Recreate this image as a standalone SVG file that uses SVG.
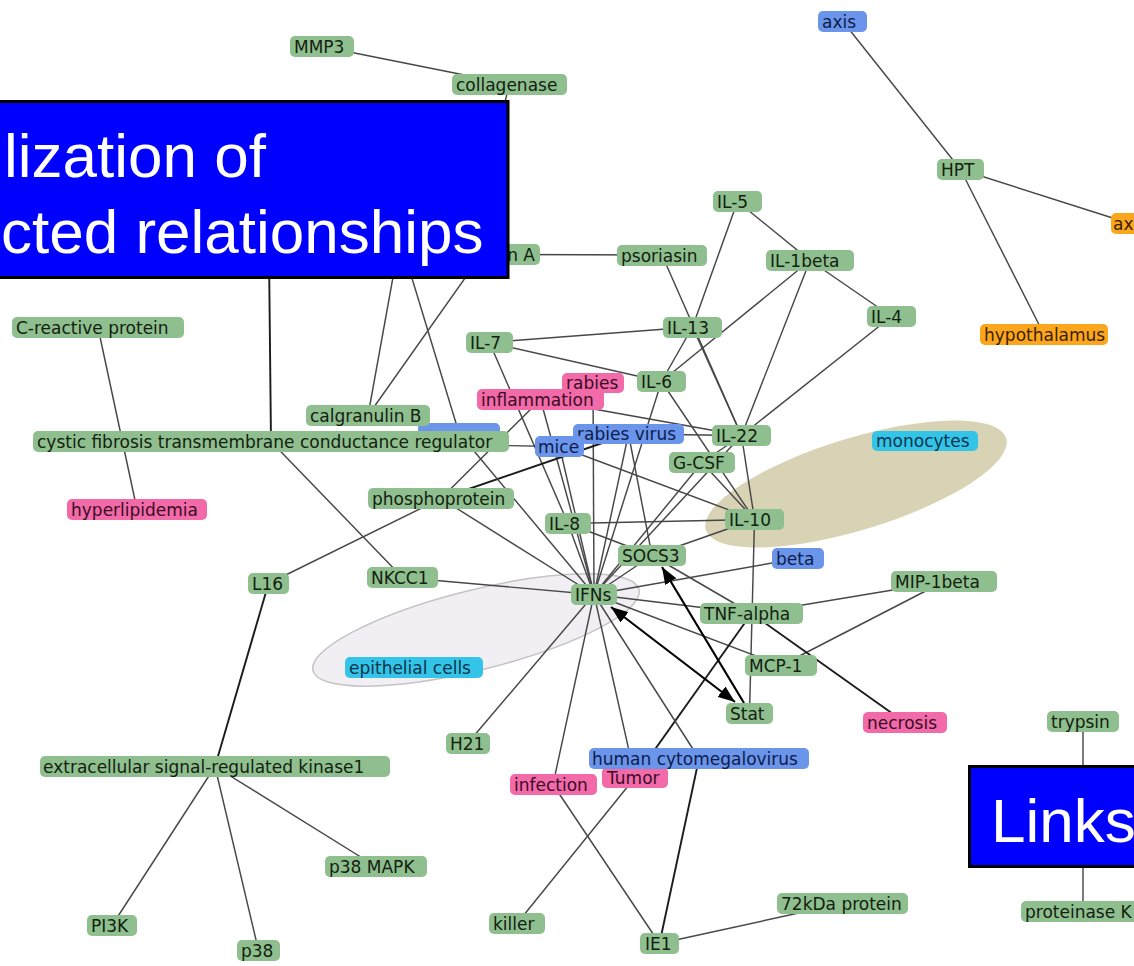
<svg xmlns="http://www.w3.org/2000/svg" width="1134" height="966" viewBox="0 0 1134 966">
<style>
  .e { stroke: #474747; stroke-width: 1.45; fill: none; }
  .dk { stroke: #1c1c1c; stroke-width: 1.9; fill: none; }
  .ar { stroke: #000; stroke-width: 2.2; fill: none; }
  .g { fill: #8fbf8f; }
  .p { fill: #f26aa8; }
  .b { fill: #6b95ea; }
  .c { fill: #33c4e8; }
  .o { fill: #fba61c; }
  rect.g, rect.p, rect.b, rect.c, rect.o { rx: 5px; ry: 5px; }
  .t { font-family: "DejaVu Sans", "Liberation Sans", sans-serif; font-size: 17px; fill: #13210f; }
  .tb { fill: #0d1c4c; }
  .tp { fill: #3a0c26; }
  .tc { fill: #08344e; }
  .to { fill: #3a2200; }
  .banner { fill: #0000ff; stroke: #000; stroke-width: 3; }
  .bt { font-family: "Liberation Sans", Arial, sans-serif; font-size: 62px; fill: #fff; }
</style>
<defs>
  <marker id="tip" viewBox="0 0 17 13" refX="17" refY="6.5" markerWidth="17" markerHeight="13" markerUnits="userSpaceOnUse" orient="auto-start-reverse">
    <path d="M0,0 L17,6.5 L0,13 z" fill="#000"/>
  </marker>
</defs>
<rect width="1134" height="966" fill="#fff"/>

<!-- cell-type regions -->
<g id="regions">
  <ellipse cx="856" cy="484" rx="157" ry="46" transform="rotate(-17 856 484)" fill="#d7d3b4"/>
  <ellipse cx="476" cy="630" rx="168" ry="40" transform="rotate(-14 476 630)" fill="#f1eff4" stroke="#c6c2c8" stroke-width="1.5"/>
</g>

<!-- connectors -->
<g id="connectors">
  <line class="e" x1="322" y1="46.5" x2="509.5" y2="84"/>
  <line class="e" x1="509.5" y1="84" x2="480" y2="200"/>
  <line class="dk" x1="268" y1="160" x2="271" y2="441.5"/>
  <line class="e" x1="416" y1="150" x2="368" y2="415.5"/>
  <line class="e" x1="373" y1="150" x2="459" y2="433"/>
  <line class="e" x1="499" y1="230" x2="368" y2="415.5"/>
  <line class="e" x1="510" y1="254.5" x2="662" y2="255"/>
  <line class="e" x1="662" y1="255" x2="741.5" y2="435.5"/>
  <line class="e" x1="737.5" y1="201.5" x2="692.5" y2="327"/>
  <line class="e" x1="737.5" y1="201.5" x2="810" y2="260.5"/>
  <line class="e" x1="810" y1="260.5" x2="891.5" y2="316.5"/>
  <line class="e" x1="810" y1="260.5" x2="661.5" y2="381.5"/>
  <line class="e" x1="810" y1="260.5" x2="741.5" y2="435.5"/>
  <line class="e" x1="891.5" y1="316.5" x2="741.5" y2="435.5"/>
  <line class="e" x1="692.5" y1="327" x2="489.5" y2="342.5"/>
  <line class="e" x1="692.5" y1="327" x2="741.5" y2="435.5"/>
  <line class="e" x1="692.5" y1="327" x2="661.5" y2="381.5"/>
  <line class="e" x1="489.5" y1="342.5" x2="661.5" y2="381.5"/>
  <line class="e" x1="489.5" y1="342.5" x2="568" y2="523.5"/>
  <line class="e" x1="661.5" y1="381.5" x2="594" y2="594.5"/>
  <line class="e" x1="661.5" y1="381.5" x2="754.5" y2="519.5"/>
  <line class="e" x1="540.5" y1="399.5" x2="741.5" y2="435.5"/>
  <line class="e" x1="628.5" y1="434" x2="741.5" y2="435.5"/>
  <line class="e" x1="593" y1="383" x2="594" y2="594.5"/>
  <line class="e" x1="540.5" y1="399.5" x2="594" y2="594.5"/>
  <line class="e" x1="559.5" y1="446.5" x2="594" y2="594.5"/>
  <line class="e" x1="628.5" y1="434" x2="594" y2="594.5"/>
  <line class="e" x1="559.5" y1="446.5" x2="754.5" y2="519.5"/>
  <line class="e" x1="271" y1="441.5" x2="559.5" y2="446.5"/>
  <line class="e" x1="441" y1="498.5" x2="540.5" y2="399.5"/>
  <line class="dk" x1="441" y1="498.5" x2="628.5" y2="434"/>
  <line class="e" x1="441" y1="498.5" x2="594" y2="594.5"/>
  <line class="e" x1="459" y1="433" x2="594" y2="594.5"/>
  <line class="e" x1="402.5" y1="577.5" x2="594" y2="594.5"/>
  <line class="e" x1="271" y1="441.5" x2="402.5" y2="577.5"/>
  <line class="e" x1="268.5" y1="583.5" x2="441" y2="498.5"/>
  <line class="e" x1="568" y1="523.5" x2="594" y2="594.5"/>
  <line class="e" x1="568" y1="523.5" x2="754.5" y2="519.5"/>
  <line class="e" x1="568" y1="523.5" x2="652" y2="555.5"/>
  <line class="e" x1="652" y1="555.5" x2="754.5" y2="519.5"/>
  <line class="e" x1="652" y1="555.5" x2="594" y2="594.5"/>
  <line class="e" x1="652" y1="555.5" x2="751.5" y2="613.5"/>
  <line class="e" x1="702" y1="462.5" x2="594" y2="594.5"/>
  <line class="e" x1="741.5" y1="435.5" x2="594" y2="594.5"/>
  <line class="e" x1="702" y1="462.5" x2="754.5" y2="519.5"/>
  <line class="e" x1="741.5" y1="435.5" x2="754.5" y2="519.5"/>
  <line class="e" x1="741.5" y1="435.5" x2="702" y2="462.5"/>
  <line class="e" x1="628.5" y1="434" x2="652" y2="555.5"/>
  <line class="e" x1="594" y1="594.5" x2="798" y2="558.5"/>
  <line class="e" x1="594" y1="594.5" x2="751.5" y2="613.5"/>
  <line class="e" x1="594" y1="594.5" x2="781" y2="665.5"/>
  <line class="e" x1="754.5" y1="519.5" x2="749.5" y2="713.5"/>
  <line class="e" x1="751.5" y1="613.5" x2="944" y2="581.5"/>
  <line class="e" x1="781" y1="665.5" x2="944" y2="581.5"/>
  <line class="dk" x1="751.5" y1="613.5" x2="905" y2="722.5"/>
  <line class="dk" x1="751.5" y1="613.5" x2="635" y2="777.5"/>
  <line class="e" x1="594" y1="594.5" x2="699" y2="758.5"/>
  <line class="dk" x1="699" y1="758.5" x2="659.5" y2="943.5"/>
  <line class="e" x1="594" y1="594.5" x2="553" y2="784.5"/>
  <line class="e" x1="594" y1="594.5" x2="635" y2="777.5"/>
  <line class="e" x1="594" y1="594.5" x2="467.5" y2="743.5"/>
  <line class="e" x1="553" y1="784.5" x2="659.5" y2="943.5"/>
  <line class="e" x1="635" y1="777.5" x2="517" y2="923.5"/>
  <line class="e" x1="659.5" y1="943.5" x2="842.5" y2="903.5"/>
  <line class="dk" x1="268.5" y1="583.5" x2="215" y2="766.5"/>
  <line class="e" x1="215" y1="766.5" x2="112" y2="925.5"/>
  <line class="e" x1="215" y1="766.5" x2="258.5" y2="950.5"/>
  <line class="e" x1="215" y1="766.5" x2="376" y2="866.5"/>
  <line class="e" x1="98" y1="327.5" x2="137" y2="509.5"/>
  <line class="e" x1="842.5" y1="21" x2="960.5" y2="169.5"/>
  <line class="e" x1="960.5" y1="169.5" x2="1130" y2="223.5"/>
  <line class="e" x1="960.5" y1="169.5" x2="1044" y2="334.5"/>
  <line class="e" x1="1083" y1="721.5" x2="1083" y2="911.5"/>
  <!-- directed links -->
  <line class="ar" x1="611" y1="607" x2="735" y2="702" marker-start="url(#tip)" marker-end="url(#tip)"/>
  <line class="ar" x1="744" y1="703" x2="662" y2="567" marker-end="url(#tip)"/>
</g>

<!-- nodes -->
<g id="n-mmp3"><rect class="g" x="290" y="36" width="64" height="21"/><text class="t" x="294" y="52.5">MMP3</text></g>
<g id="n-collagenase"><rect class="g" x="452" y="74" width="115" height="21"/><text class="t" x="456" y="90.5">collagenase</text></g>
<g id="n-axis"><rect class="b" x="818" y="11" width="49" height="21"/><text class="t tb" x="822" y="27.5">axis</text></g>
<g id="n-hpt"><rect class="g" x="937" y="159" width="47" height="21"/><text class="t" x="941" y="175.5">HPT</text></g>
<g id="n-axis2"><rect class="o" x="1111" y="213" width="40" height="21"/><text class="t to" x="1113" y="229.5">ax</text></g>
<g id="n-il5"><rect class="g" x="713" y="191" width="49" height="21"/><text class="t" x="717" y="207.5">IL-5</text></g>
<g id="n-il1beta"><rect class="g" x="766" y="250" width="88" height="21"/><text class="t" x="770" y="266.5">IL-1beta</text></g>
<g id="n-il4"><rect class="g" x="867" y="306" width="49" height="21"/><text class="t" x="871" y="322.5">IL-4</text></g>
<g id="n-hypothalamus"><rect class="o" x="980" y="324" width="128" height="21"/><text class="t to" x="984" y="340.5">hypothalamus</text></g>
<g id="n-psoriasin"><rect class="g" x="617" y="245" width="90" height="21"/><text class="t" x="621" y="261.5">psoriasin</text></g>
<g id="n-na"><rect class="g" x="470" y="244" width="70" height="21"/><text class="t" x="535" y="260.5" text-anchor="end">n A</text></g>
<g id="n-il13"><rect class="g" x="663" y="317" width="59" height="21"/><text class="t" x="667" y="333.5">IL-13</text></g>
<g id="n-il7"><rect class="g" x="466" y="332" width="47" height="21"/><text class="t" x="470" y="348.5">IL-7</text></g>
<g id="n-il6"><rect class="g" x="637" y="371" width="49" height="21"/><text class="t" x="641" y="387.5">IL-6</text></g>
<g id="n-rabies"><rect class="p" x="562" y="373" width="62" height="20"/><text class="t tp" x="566" y="388.5">rabies</text></g>
<g id="n-inflammation"><rect class="p" x="477" y="389" width="127" height="21"/><text class="t tp" x="481" y="405.5">inflammation</text></g>
<g id="n-rabiesvirus"><rect class="b" x="573" y="424" width="111" height="20"/><text class="t tb" x="577" y="439.5">rabies virus</text></g>
<g id="n-mice"><rect class="b" x="535" y="436" width="49" height="21"/><text class="t tb" x="538" y="452.5">mice</text></g>
<g id="n-il22"><rect class="g" x="712" y="425" width="59" height="21"/><text class="t" x="716" y="441.5">IL-22</text></g>
<g id="n-gcsf"><rect class="g" x="669" y="452" width="66" height="21"/><text class="t" x="673" y="468.5">G-CSF</text></g>
<g id="n-il8"><rect class="g" x="545" y="513" width="46" height="21"/><text class="t" x="549" y="529.5">IL-8</text></g>
<g id="n-il10"><rect class="g" x="725" y="509" width="59" height="21"/><text class="t" x="729" y="525.5">IL-10</text></g>
<g id="n-blue"><rect class="b" x="418" y="423" width="82" height="21"/></g>
<g id="n-calgranulinb"><rect class="g" x="306" y="405" width="124" height="21"/><text class="t" x="310" y="421.5">calgranulin B</text></g>
<g id="n-cftr"><rect class="g" x="33" y="431" width="476" height="21"/><text class="t" x="37" y="447.5">cystic fibrosis transmembrane conductance regulator</text></g>
<g id="n-crp"><rect class="g" x="12" y="317" width="172" height="21"/><text class="t" x="16" y="333.5">C-reactive protein</text></g>
<g id="n-hyperlipidemia"><rect class="p" x="67" y="499" width="140" height="21"/><text class="t tp" x="71" y="515.5">hyperlipidemia</text></g>
<g id="n-phosphoprotein"><rect class="g" x="368" y="488" width="146" height="21"/><text class="t" x="372" y="504.5">phosphoprotein</text></g>
<g id="n-nkcc1"><rect class="g" x="367" y="567" width="71" height="21"/><text class="t" x="371" y="583.5">NKCC1</text></g>
<g id="n-l16"><rect class="g" x="248" y="573" width="41" height="21"/><text class="t" x="252" y="589.5">L16</text></g>
<g id="n-ifns"><rect class="g" x="571" y="584" width="46" height="21"/><text class="t" x="575" y="600.5">IFNs</text></g>
<g id="n-socs3"><rect class="g" x="618" y="545" width="68" height="21"/><text class="t" x="622" y="561.5">SOCS3</text></g>
<g id="n-beta"><rect class="b" x="772" y="548" width="52" height="21"/><text class="t tb" x="776" y="564.5">beta</text></g>
<g id="n-tnfalpha"><rect class="g" x="700" y="603" width="103" height="21"/><text class="t" x="704" y="619.5">TNF-alpha</text></g>
<g id="n-mcp1"><rect class="g" x="745" y="655" width="72" height="21"/><text class="t" x="749" y="671.5">MCP-1</text></g>
<g id="n-stat"><rect class="g" x="726" y="703" width="47" height="21"/><text class="t" x="730" y="719.5">Stat</text></g>
<g id="n-mip1beta"><rect class="g" x="891" y="571" width="106" height="21"/><text class="t" x="895" y="587.5">MIP-1beta</text></g>
<g id="n-necrosis"><rect class="p" x="863" y="712" width="84" height="21"/><text class="t tp" x="867" y="728.5">necrosis</text></g>
<g id="n-monocytes"><rect class="c" x="872" y="431" width="106" height="20"/><text class="t tc" x="876" y="446.5">monocytes</text></g>
<g id="n-epithelial"><rect class="c" x="345" y="657" width="138" height="21"/><text class="t tc" x="349" y="673.5">epithelial cells</text></g>
<g id="n-h21"><rect class="g" x="446" y="733" width="44" height="21"/><text class="t" x="450" y="749.5">H21</text></g>
<g id="n-tumor"><rect class="p" x="602" y="767" width="66" height="21"/><text class="t tp" x="607" y="783.5">Tumor</text></g>
<g id="n-hcmv"><rect class="b" x="589" y="748" width="220" height="21"/><text class="t tb" x="592" y="764.5">human cytomegalovirus</text></g>
<g id="n-infection"><rect class="p" x="510" y="774" width="87" height="21"/><text class="t tp" x="514" y="790.5">infection</text></g>
<g id="n-erk1"><rect class="g" x="40" y="756" width="350" height="21"/><text class="t" x="43" y="772.5">extracellular signal-regulated kinase1</text></g>
<g id="n-p38mapk"><rect class="g" x="325" y="856" width="102" height="21"/><text class="t" x="329" y="872.5">p38 MAPK</text></g>
<g id="n-pi3k"><rect class="g" x="87" y="915" width="50" height="21"/><text class="t" x="91" y="931.5">PI3K</text></g>
<g id="n-p38"><rect class="g" x="237" y="940" width="43" height="21"/><text class="t" x="241" y="956.5">p38</text></g>
<g id="n-killer"><rect class="g" x="489" y="913" width="56" height="21"/><text class="t" x="493" y="929.5">killer</text></g>
<g id="n-ie1"><rect class="g" x="640" y="933" width="39" height="21"/><text class="t" x="645" y="949.5">IE1</text></g>
<g id="n-72kda"><rect class="g" x="777" y="893" width="131" height="21"/><text class="t" x="781" y="909.5">72kDa protein</text></g>
<g id="n-trypsin"><rect class="g" x="1047" y="711" width="72" height="21"/><text class="t" x="1051" y="727.5">trypsin</text></g>
<g id="n-proteinasek"><rect class="g" x="1021" y="901" width="120" height="21"/><text class="t" x="1025" y="917.5">proteinase K</text></g>

<!-- slide captions -->
<g id="caption-main">
  <rect class="banner" x="-5" y="101.5" width="513" height="176"/>
  <text class="bt" x="4" y="177">lization of</text>
  <text class="bt" x="1" y="253">cted relationships</text>
</g>
<g id="caption-links">
  <rect class="banner" x="969.5" y="766.5" width="170" height="100"/>
  <text class="bt" x="991" y="842" font-size="60">Links</text>
</g>
</svg>
